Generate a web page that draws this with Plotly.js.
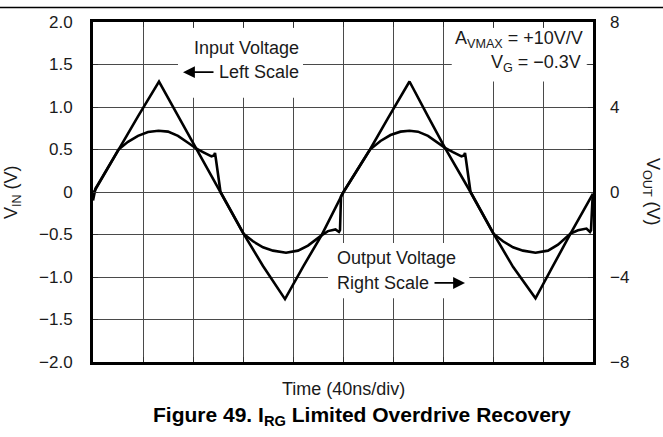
<!DOCTYPE html>
<html>
<head>
<meta charset="utf-8">
<script src="https://cdn.plot.ly/plotly-3.0.1.min.js"></script>
<style>html,body{margin:0;padding:0;background:#fff;}#chart{width:663px;height:437px;}</style>
</head>
<body>
<div id="chart"></div>
<script>
// Time axis in ns (40 ns per division)
const inputTime = [0, 20.4, 36, 52.8, 68, 82.8, 102, 120.4, 136, 153.6, 168, 182.8, 200.4, 221.6, 236, 253.2, 268, 281.6, 302, 320.4, 336, 354, 368, 382, 400];
// Input voltage, left scale (V)
const inputVolts = [-0.02, 0.50, 0.89, 1.30, 0.90, 0.51, 0.0, -0.49, -0.87, -1.26, -0.88, -0.51, 0.0, 0.50, 0.87, 1.30, 0.89, 0.52, 0.0, -0.49, -0.88, -1.25, -0.87, -0.49, -0.02];

const outputTime = [0, 2, 4, 20.4, 28, 36, 44, 52.4, 60, 68, 76, 82.8, 88, 94.8, 96.8, 97.6, 98.4, 102, 120.4, 128, 136, 144, 154.4, 164, 172, 178, 182.8, 188, 194, 196.8, 197.6, 198.4, 200.4, 221.6, 230, 238, 246, 253.2, 260, 268, 276, 281.6, 288, 294.8, 296.8, 297.6, 298.4, 302, 320.4, 328, 336, 344, 354, 364, 372, 378, 382, 388, 394.8, 397.6, 398.4, 399.6, 400];
// Output voltage, right scale (V)
const outputVolts = [-0.40, 0.16, 0.36, 2.00, 2.36, 2.64, 2.82, 2.88, 2.84, 2.64, 2.32, 2.04, 1.88, 1.68, 1.72, 1.84, 1.52, 0.0, -1.96, -2.32, -2.60, -2.76, -2.86, -2.76, -2.52, -2.24, -2.04, -1.84, -1.76, -1.88, -1.80, -0.20, 0.0, 2.00, 2.40, 2.68, 2.84, 2.88, 2.84, 2.64, 2.32, 2.08, 1.88, 1.68, 1.72, 1.84, 1.52, 0.0, -1.96, -2.32, -2.60, -2.76, -2.86, -2.76, -2.48, -2.16, -1.96, -1.80, -1.72, -1.88, -1.80, -0.32, -0.20];

const xGridTicks = [0, 40, 80, 120, 160, 200, 240, 280, 320, 360, 400];
const leftTickVals = [-2, -1.5, -1, -0.5, 0, 0.5, 1, 1.5, 2];
const leftTickText = ['\u22122.0', '\u22121.5', '\u22121.0', '\u22120.5', '0', '0.5', '1.0', '1.5', '2.0'];
const rightTickVals = [-8, -4, 0, 4, 8];
const rightTickText = ['\u22128', '\u22124', '0', '4', '8'];

const FONT = 'Liberation Sans, Arial, Helvetica, sans-serif';
const TXT = '#1a1a1a';

const traces = [
  {x: inputTime, y: inputVolts, type: 'scatter', mode: 'lines', yaxis: 'y',
   line: {color: '#000', width: 2.6}, hoverinfo: 'skip'},
  {x: outputTime, y: outputVolts, type: 'scatter', mode: 'lines', yaxis: 'y2',
   line: {color: '#000', width: 2.6}, hoverinfo: 'skip'}
];

const axisCommon = {
  showgrid: true, gridcolor: '#4a4a4a', gridwidth: 1,
  zeroline: false, showline: true, linecolor: '#000', linewidth: 3,
  ticks: 'inside', ticklen: 5, tickwidth: 1, tickcolor: '#333', mirror: 'ticks'
};

const layout = {
  width: 663, height: 437,
  margin: {l: 93, r: 70, t: 22, b: 75, pad: 0},
  paper_bgcolor: '#fff', plot_bgcolor: '#fff',
  showlegend: false,
  font: {family: FONT, size: 17, color: TXT},
  xaxis: Object.assign({}, axisCommon, {
    range: [0, 400], tickmode: 'array', tickvals: xGridTicks, showticklabels: false
  }),
  yaxis: Object.assign({}, axisCommon, {
    range: [-2, 2], tickmode: 'array', tickvals: leftTickVals, ticktext: leftTickText,
    tickfont: {family: FONT, size: 17, color: TXT}, ticklabelstandoff: 14
  }),
  yaxis2: {
    overlaying: 'y', side: 'right', range: [-8, 8], tickmode: 'array',
    tickvals: rightTickVals, ticktext: rightTickText, showgrid: false, zeroline: false,
    showline: false, ticks: '', tickfont: {family: FONT, size: 17, color: TXT},
    ticklabelstandoff: 16
  },
  shapes: [
    {type: 'rect', layer: 'between', xref: 'x', yref: 'y', x0: 68, x1: 168, y0: 1.11, y1: 1.93,
     fillcolor: '#fff', line: {width: 0}},
    {type: 'rect', layer: 'between', xref: 'x', yref: 'y', x0: 287, x1: 395, y0: 1.30, y1: 1.93,
     fillcolor: '#fff', line: {width: 0}},
    {type: 'rect', layer: 'between', xref: 'x', yref: 'y', x0: 188, x1: 301, y0: -1.25, y1: -0.6,
     fillcolor: '#fff', line: {width: 0}},
    {type: 'line', xref: 'paper', yref: 'paper', x0: -0.19, x1: 1.15, y0: 1.0426, y1: 1.0426,
     line: {color: '#000', width: 1.5}}
  ],
  annotations: [
    {x: 122.4, y: 1.694, xref: 'x', yref: 'y', text: 'Input Voltage', showarrow: false,
     xanchor: 'center', yanchor: 'middle', font: {size: 18}},
    {x: 166.4, y: 1.41, xref: 'x', yref: 'y', text: 'Left Scale', showarrow: false,
     xanchor: 'right', yanchor: 'middle', font: {size: 18}},
    {x: 72, y: 1.41, xref: 'x', yref: 'y', ax: 97.6, ay: 1.41, axref: 'x', ayref: 'y',
     text: '', showarrow: true, arrowhead: 2, arrowsize: 1.4, arrowwidth: 1.7, arrowcolor: '#000'},
    {x: 393.6, y: 1.79, xref: 'x', yref: 'y', text: 'A<sub>VMAX</sub> = +10V/V', showarrow: false,
     xanchor: 'right', yanchor: 'middle', font: {size: 18}},
    {x: 392, y: 1.506, xref: 'x', yref: 'y', text: 'V<sub>G</sub> = \u22120.3V', showarrow: false,
     xanchor: 'right', yanchor: 'middle', font: {size: 18}},
    {x: 193.6, y: -0.776, xref: 'x', yref: 'y', text: 'Output Voltage', showarrow: false,
     xanchor: 'left', yanchor: 'middle', font: {size: 18}},
    {x: 193.6, y: -1.07, xref: 'x', yref: 'y', text: 'Right Scale', showarrow: false,
     xanchor: 'left', yanchor: 'middle', font: {size: 18}},
    {x: 297.6, y: -1.07, xref: 'x', yref: 'y', ax: 272, ay: -1.07, axref: 'x', ayref: 'y',
     text: '', showarrow: true, arrowhead: 2, arrowsize: 1.4, arrowwidth: 1.7, arrowcolor: '#000'},
    {x: -0.162, y: 0.5, xref: 'paper', yref: 'paper', text: 'V<sub>IN</sub> (V)', showarrow: false,
     textangle: -90, xanchor: 'center', yanchor: 'middle', font: {size: 18}},
    {x: 1.118, y: 0.5, xref: 'paper', yref: 'paper', text: 'V<sub>OUT</sub> (V)', showarrow: false,
     textangle: 90, xanchor: 'center', yanchor: 'middle', font: {size: 18}},
    {x: 0.5, y: -0.079, xref: 'paper', yref: 'paper', text: 'Time (40ns/div)', showarrow: false,
     xanchor: 'center', yanchor: 'middle', font: {size: 18}},
    {x: 0.538, y: -0.159, xref: 'paper', yref: 'paper',
     text: '<b>Figure 49. I<sub>RG</sub> Limited Overdrive Recovery</b>', showarrow: false,
     xanchor: 'center', yanchor: 'middle', font: {size: 21, color: '#000'}}
  ]
};

Plotly.newPlot('chart', traces, layout, {staticPlot: true, displayModeBar: false});
</script>
</body>
</html>
